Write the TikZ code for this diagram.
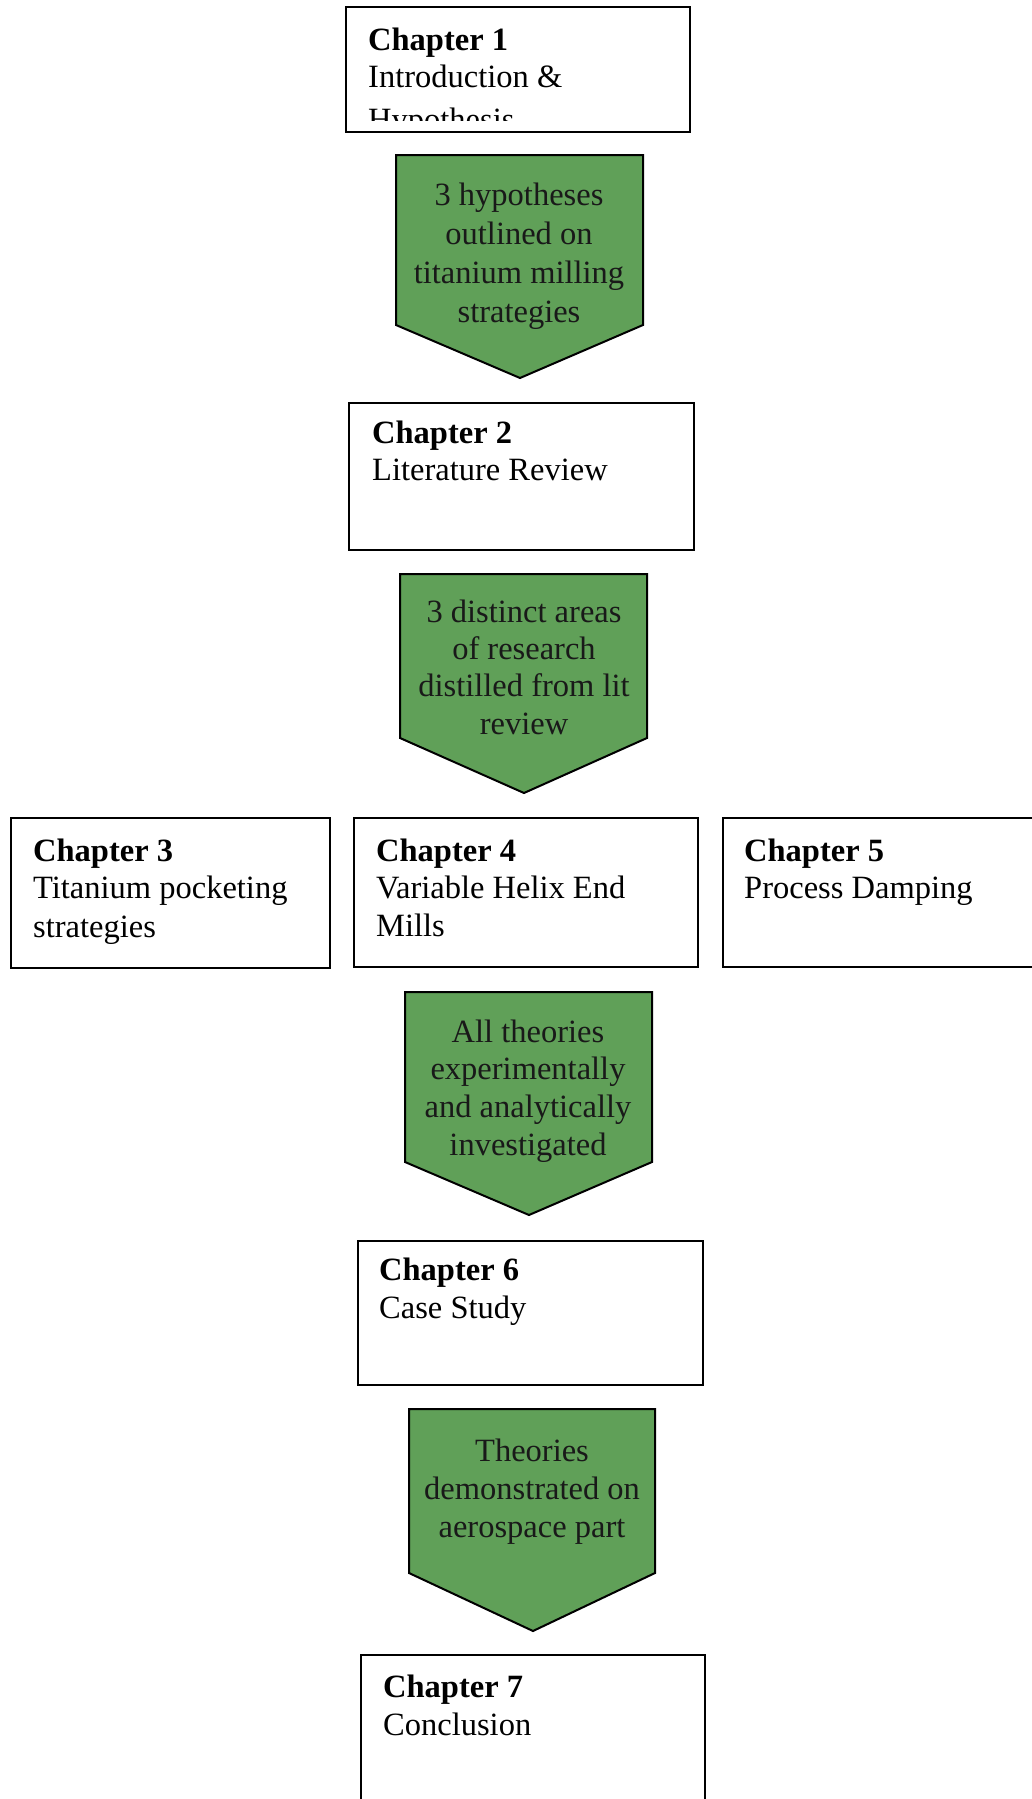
\documentclass[tikz,border=0pt]{standalone}
\usepackage{fontspec}
\setmainfont{Liberation Serif}
\definecolor{arrowgreen}{RGB}{96,160,88}
\begin{document}
\begin{tikzpicture}[x=1pt,y=-1pt,
  chbox/.style={draw=black, line width=2.4pt, fill=white, rectangle, inner sep=0pt},
  garrow/.style={draw=black, line width=2pt, fill=arrowgreen, line join=miter},
  btxt/.style={inner sep=0pt, anchor=base west, font=\fontsize{32.5}{38}\selectfont},
  atxt/.style={inner sep=0pt, anchor=base, font=\fontsize{32.5}{38}\selectfont, text=black!90}
]
\useasboundingbox (0,0) rectangle (1032,1799);
\fill[white] (0,0) rectangle (1032,1799);

% ---------- Chapter boxes ----------
\node[chbox, minimum width=344pt, minimum height=125pt] (c1) at (518,69.5) {};
\node[chbox, minimum width=345pt, minimum height=147pt] (c2) at (521.5,476.5) {};
\node[chbox, minimum width=319pt, minimum height=150pt] (c3) at (170.5,893) {};
\node[chbox, minimum width=344pt, minimum height=149pt] (c4) at (526,892.5) {};
\node[chbox, minimum width=322pt, minimum height=149pt] (c5) at (884,892.5) {};
\node[chbox, minimum width=345pt, minimum height=144pt] (c6) at (530.5,1313) {};
\node[chbox, minimum width=344pt, minimum height=160pt] (c7) at (533,1735) {};

% ---------- Chapter texts ----------
\begin{scope}
\clip (346,7) rectangle (690,120);
\node[btxt] (c1a) at (368,50) {\textbf{Chapter 1}};
\node[btxt] (c1b) at (368,87) {Introduction \&};
\node[btxt] (c1c) at (368,130) {Hypothesis};
\end{scope}

\node[btxt] (c2a) at (372,443) {\textbf{Chapter 2}};
\node[btxt] (c2b) at (372,480) {Literature Review};

\node[btxt] (c3a) at (33,861) {\textbf{Chapter 3}};
\node[btxt] (c3b) at (33,898) {Titanium pocketing};
\node[btxt] (c3c) at (33,937) {strategies};

\node[btxt] (c4a) at (376,861) {\textbf{Chapter 4}};
\node[btxt] (c4b) at (376,898) {Variable Helix End};
\node[btxt] (c4c) at (376,936) {Mills};

\node[btxt] (c5a) at (744,861) {\textbf{Chapter 5}};
\node[btxt] (c5b) at (744,898) {Process Damping};

\node[btxt] (c6a) at (379,1280) {\textbf{Chapter 6}};
\node[btxt] (c6b) at (379,1318) {Case Study};

\node[btxt] (c7a) at (383,1697) {\textbf{Chapter 7}};
\node[btxt] (c7b) at (383,1735) {Conclusion};

% ---------- Green block arrows ----------
\draw[garrow] (396,155) -- (643,155) -- (643,325) -- (520,378) -- (396,325) -- cycle;
\node[atxt] (a1a) at (519,205) {3 hypotheses};
\node[atxt] (a1b) at (519,244) {outlined on};
\node[atxt] (a1c) at (519,283) {titanium milling};
\node[atxt] (a1d) at (519,322) {strategies};

\draw[garrow] (400,574) -- (647,574) -- (647,738) -- (524,793) -- (400,738) -- cycle;
\node[atxt] (a2a) at (524,622) {3 distinct areas};
\node[atxt] (a2b) at (524,659) {of research};
\node[atxt] (a2c) at (524,696) {distilled from lit};
\node[atxt] (a2d) at (524,734) {review};

\draw[garrow] (405,992) -- (652,992) -- (652,1162) -- (529,1215) -- (405,1162) -- cycle;
\node[atxt] (a3a) at (528,1042) {All theories};
\node[atxt] (a3b) at (528,1079) {experimentally};
\node[atxt] (a3c) at (528,1117) {and analytically};
\node[atxt] (a3d) at (528,1155) {investigated};

\draw[garrow] (409,1409) -- (655,1409) -- (655,1573) -- (533,1631) -- (409,1573) -- cycle;
\node[atxt] (a4a) at (532,1461) {Theories};
\node[atxt] (a4b) at (532,1499) {demonstrated on};
\node[atxt] (a4c) at (532,1537) {aerospace part};
\end{tikzpicture}
\end{document}
